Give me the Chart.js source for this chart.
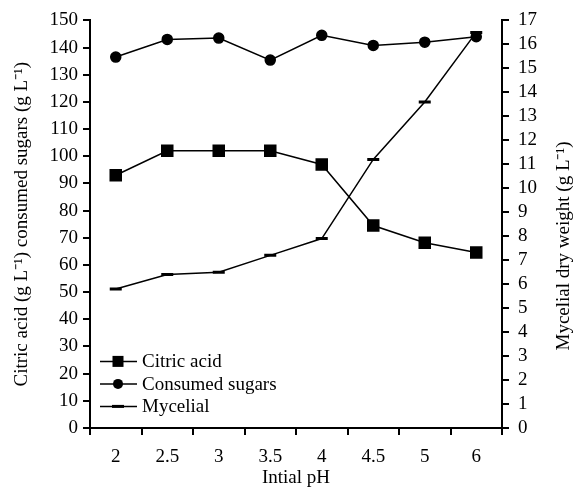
<!DOCTYPE html>
<html>
<head>
<meta charset="utf-8">
<script src="https://cdn.jsdelivr.net/npm/chart.js@4"></script>
<style>
  html, body { margin: 0; padding: 0; background: #fff; }
  #wrap { width: 576px; height: 493px; position: relative; }
</style>
</head>
<body>
<div id="wrap"><canvas id="chart"></canvas></div>
<script>
// data
var phLabels = ["2", "2.5", "3", "3.5", "4", "4.5", "5", "6"];
var citricAcid = [93, 102, 102, 102, 97, 74.5, 68.2, 64.6];
var consumedSugars = [136.5, 143, 143.5, 135.4, 144.5, 140.8, 142, 144];
var mycelial = [5.8, 6.4, 6.5, 7.2, 7.9, 11.2, 13.6, 16.5];

var leftTitle = "Citric acid (g L\u207B\u00B9) consumed sugars (g L\u207B\u00B9)";
var rightTitle = "Mycelial dry weight (g L\u207B\u00B9)";
var xTitle = "Intial pH";

const FONT = "'Liberation Serif', 'Times New Roman', serif";
const FSIZE = 19;

// legend inside the plot (lower left) and the two vertical axis titles
var extras = {
    id: "extras",
    afterDraw: function (chart) {
        var ctx = chart.ctx;
        var area = chart.chartArea;
        var items = [
            { text: "Citric acid", style: "rect" },
            { text: "Consumed sugars", style: "circle" },
            { text: "Mycelial", style: "line" }
        ];
        ctx.save();
        ctx.font = FSIZE + "px " + FONT;
        ctx.fillStyle = "#000";
        ctx.strokeStyle = "#000";
        ctx.textBaseline = "middle";
        for (var i = 0; i < items.length; i++) {
            var y = area.top + 341 + i * 22.5;
            var x0 = area.left + 10;
            ctx.lineWidth = 1.5;
            ctx.beginPath();
            ctx.moveTo(x0, y);
            ctx.lineTo(x0 + 37, y);
            ctx.stroke();
            var cx = x0 + 18;
            ctx.beginPath();
            if (items[i].style == "rect") {
                ctx.fillRect(cx - 5.5, y - 5.5, 11, 11);
            } else if (items[i].style == "circle") {
                ctx.arc(cx, y, 5, 0, 2 * Math.PI);
                ctx.fill();
            } else {
                ctx.fillRect(cx - 6, y - 1.5, 12, 3);
            }
            ctx.fillText(items[i].text, x0 + 42, y + 1);
        }

        // vertical titles, both read bottom to top
        ctx.textAlign = "center";
        ctx.save();
        ctx.translate(22, (area.top + area.bottom) / 2);
        ctx.rotate(-Math.PI / 2);
        ctx.fillText(leftTitle, 0, 0);
        ctx.restore();

        ctx.save();
        ctx.translate(area.right + 62, 246);
        ctx.rotate(-Math.PI / 2);
        ctx.fillText(rightTitle, 0, 0);
        ctx.restore();
        ctx.restore();
    }
};

var tickFont = { family: FONT, size: FSIZE };
var axisBorder = { color: "#000", width: 2 };
var axisGrid = { drawOnChartArea: false, color: "#000", lineWidth: 2, tickLength: 7 };

new Chart(document.getElementById("chart"), {
    type: "line",
    data: {
        labels: phLabels,
        datasets: [{
            label: "Citric acid",
            data: citricAcid,
            yAxisID: "y",
            borderColor: "#000",
            backgroundColor: "#000",
            borderWidth: 1.5,
            pointStyle: "rect",
            pointRadius: 7.8,
            pointHoverRadius: 7.8
        }, {
            label: "Consumed sugars",
            data: consumedSugars,
            yAxisID: "y",
            borderColor: "#000",
            backgroundColor: "#000",
            borderWidth: 1.5,
            pointStyle: "circle",
            pointRadius: 5,
            pointHoverRadius: 5
        }, {
            label: "Mycelial",
            data: mycelial,
            yAxisID: "y1",
            borderColor: "#000",
            backgroundColor: "#000",
            borderWidth: 1.5,
            pointStyle: "line",
            pointRadius: 6,
            pointBorderWidth: 3,
            pointHoverRadius: 6
        }]
    },
    options: {
        responsive: true,
        maintainAspectRatio: false,
        animation: false,
        layout: { autoPadding: false, padding: { top: 17, bottom: 0, left: 0, right: 0 } },
        plugins: { legend: { display: false }, tooltip: { enabled: false } },
        scales: {
            x: {
                offset: true,
                border: axisBorder,
                grid: { offset: true, drawOnChartArea: false, color: "#000", lineWidth: 2, tickLength: 7 },
                ticks: { color: "#000", font: tickFont, padding: 11, autoSkip: false },
                title: { display: true, text: xTitle, color: "#000", font: tickFont, padding: { top: 2 } },
                afterFit: function (s) { s.height = 65; }
            },
            y: {
                position: "left",
                min: 0, max: 150,
                border: axisBorder,
                grid: axisGrid,
                ticks: { color: "#000", font: tickFont, stepSize: 10, padding: 5, autoSkip: false },
                afterFit: function (s) { s.width = 90; }
            },
            y1: {
                position: "right",
                min: 0, max: 17,
                border: axisBorder,
                grid: axisGrid,
                ticks: { color: "#000", font: tickFont, stepSize: 1, padding: 9, autoSkip: false },
                afterFit: function (s) { s.width = 74; }
            }
        }
    },
    plugins: [extras]
});
</script>
</body>
</html>
